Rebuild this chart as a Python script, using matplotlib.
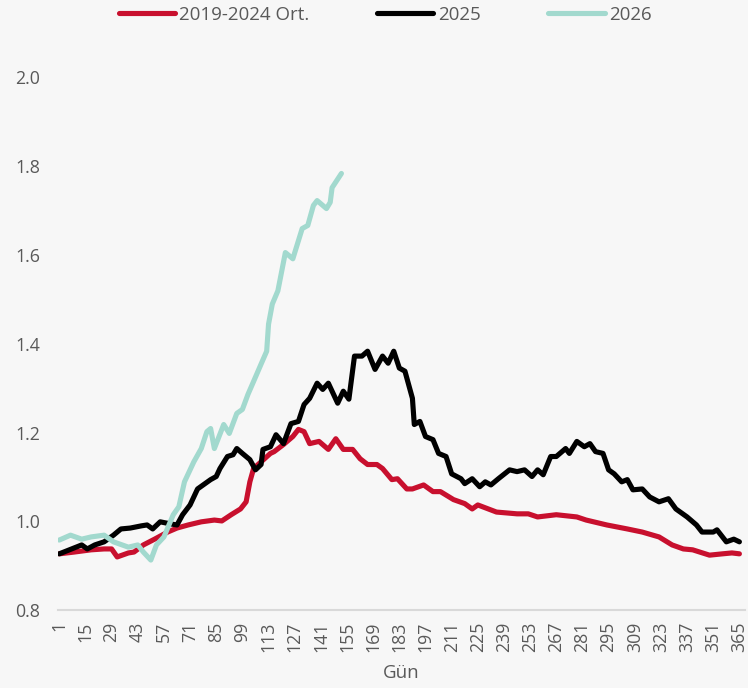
import numpy as np
import matplotlib.pyplot as plt

# 2019-2024 average
avg_days = [1, 9, 18, 25, 29, 32, 38, 41, 46, 52, 59, 64, 70, 77, 84, 88, 93, 98, 101, 103,
            105, 109, 114, 116, 121, 126, 129, 132, 135, 140, 145, 149, 153, 158, 162, 166,
            171, 174, 179, 182, 187, 190, 196, 201, 205, 212, 218, 222, 225, 235, 246, 252,
            257, 267, 278, 283, 294, 305, 313, 322, 329, 335, 340, 349, 356, 361, 365]
avg_vals = [0.927, 0.931, 0.936, 0.938, 0.938, 0.920, 0.929, 0.931, 0.947, 0.960, 0.976,
            0.985, 0.992, 0.999, 1.003, 1.001, 1.015, 1.028, 1.044, 1.089, 1.119, 1.134,
            1.153, 1.157, 1.173, 1.191, 1.207, 1.202, 1.175, 1.180, 1.162, 1.186, 1.162,
            1.162, 1.141, 1.128, 1.128, 1.119, 1.094, 1.096, 1.073, 1.073, 1.082, 1.067,
            1.067, 1.049, 1.040, 1.028, 1.037, 1.021, 1.017, 1.017, 1.010, 1.015, 1.010,
            1.003, 0.992, 0.983, 0.976, 0.965, 0.947, 0.938, 0.936, 0.924, 0.927, 0.929,
            0.927]

# 2025
y25_days = [1, 13, 16, 20, 25, 30, 34, 39, 45, 48, 51, 55, 61, 64, 67, 71, 75, 78, 82, 85,
            87, 91, 94, 96, 99, 103, 106, 109, 110, 114, 117, 121, 125, 129, 132, 135, 139,
            142, 145, 150, 153, 156, 159, 163, 166, 170, 174, 177, 180, 183, 186, 190, 191,
            194, 197, 201, 204, 208, 211, 216, 218, 222, 226, 229, 232, 236, 242, 246, 250,
            254, 257, 260, 264, 267, 272, 274, 278, 282, 285, 288, 292, 295, 298, 302, 305,
            308, 313, 317, 322, 327, 331, 337, 342, 345, 351, 353, 358, 362, 365]
y25_vals = [0.927, 0.947, 0.938, 0.947, 0.954, 0.969, 0.983, 0.985, 0.990, 0.992, 0.983,
            0.999, 0.994, 0.992, 1.015, 1.037, 1.073, 1.082, 1.094, 1.101, 1.119, 1.146,
            1.150, 1.164, 1.153, 1.139, 1.116, 1.128, 1.162, 1.168, 1.195, 1.175, 1.220,
            1.225, 1.263, 1.277, 1.311, 1.297, 1.311, 1.266, 1.293, 1.275, 1.372, 1.372,
            1.383, 1.342, 1.372, 1.356, 1.383, 1.345, 1.338, 1.277, 1.218, 1.225, 1.191,
            1.184, 1.153, 1.146, 1.107, 1.096, 1.085, 1.096, 1.078, 1.089, 1.082, 1.096,
            1.116, 1.112, 1.116, 1.101, 1.116, 1.105, 1.146, 1.146, 1.164, 1.153, 1.180,
            1.168, 1.175, 1.157, 1.153, 1.116, 1.107, 1.089, 1.094, 1.071, 1.073, 1.055,
            1.044, 1.051, 1.028, 1.010, 0.992, 0.976, 0.976, 0.981, 0.954, 0.960, 0.954]

# 2026
y26_days = [1, 7, 13, 18, 25, 30, 38, 43, 46, 50, 53, 57, 62, 65, 68, 73, 77, 80, 82, 84,
            89, 92, 96, 99, 102, 105, 109, 112, 113, 115, 118, 122, 126, 131, 134, 137, 139,
            144, 146, 147, 152]
y26_vals = [0.958, 0.969, 0.960, 0.965, 0.969, 0.954, 0.942, 0.947, 0.931, 0.913, 0.947,
            0.965, 1.015, 1.033, 1.089, 1.134, 1.164, 1.202, 1.209, 1.164, 1.218, 1.198,
            1.243, 1.252, 1.286, 1.315, 1.354, 1.383, 1.444, 1.489, 1.519, 1.605, 1.591,
            1.659, 1.666, 1.711, 1.722, 1.704, 1.718, 1.751, 1.783]

day_ticks = list(range(1, 366, 14))

bg = '#f7f7f7'
txt = '#595959'
plt.rcParams['font.family'] = ['Open Sans', 'DejaVu Sans']

fig = plt.figure(figsize=(7.48, 6.88), dpi=100, facecolor=bg)
ax = fig.add_axes([0.078, 0.113, 0.918, 0.775], facecolor=bg)

ax.plot(avg_days, avg_vals, color='#c8102e', lw=3.7, label='2019-2024 Ort.', solid_capstyle='round')
ax.plot(y25_days, y25_vals, color='black', lw=3.7, label='2025', solid_capstyle='round')
ax.plot(y26_days, y26_vals, color='#a2d9ce', lw=3.7, label='2026', solid_capstyle='round')

ax.set_xlim(0.5, 368)
ax.set_ylim(0.8, 2.0)
ax.set_yticks(np.arange(0.8, 2.01, 0.2))
ax.set_yticklabels([f'{v:.1f}' for v in np.arange(0.8, 2.01, 0.2)])
ax.set_xticks(day_ticks)
ax.set_xticklabels([str(d) for d in day_ticks], rotation=90)
ax.tick_params(axis='both', length=0, colors=txt, labelsize=12.8)
ax.tick_params(axis='y', pad=13)
ax.tick_params(axis='x', pad=8)

for s in ['top', 'right', 'left']:
    ax.spines[s].set_visible(False)
ax.spines['bottom'].set_color('#d9d9d9')
ax.spines['bottom'].set_linewidth(1.5)

ax.set_xlabel('Gün', color=txt, fontsize=13.5, labelpad=9)

fig.legend(loc='upper center', bbox_to_anchor=(0.515, 1.016), ncol=3, frameon=False,
           handlelength=3.0, columnspacing=3.6, handletextpad=0.25, fontsize=13.5,
           labelcolor=txt)

fig.savefig('out.png', dpi=100, facecolor=bg)
